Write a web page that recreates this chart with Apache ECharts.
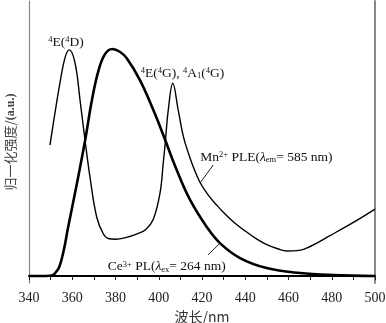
<!DOCTYPE html>
<html>
<head>
<meta charset="utf-8">
<script src="https://cdn.jsdelivr.net/npm/echarts@6/dist/echarts.min.js"></script>
<style>
html,body{margin:0;padding:0;background:#fff;}
#c{width:386px;height:323px;}
</style>
</head>
<body>
<div id="c"></div>
<script>
// Ce3+ PL (lambda_ex = 264 nm), thick curve
const ceWl  = [340, 348, 350.5, 352, 354, 356, 358, 362, 366, 369, 372, 375, 378.5, 382, 385.2, 391.3, 397.5, 402.1, 408.3, 414.5, 422.2, 428.3, 437.6, 449.9, 465.3, 480.7, 500];
const ceVal = [0, 0, 0.002, 0.012, 0.040, 0.110, 0.210, 0.400, 0.600, 0.770, 0.900, 0.975, 1.0, 0.988, 0.959, 0.863, 0.731, 0.621, 0.467, 0.335, 0.216, 0.145, 0.079, 0.035, 0.013, 0.004, 0];
// Mn2+ PLE (lambda_em = 585 nm), thin curve
const mnWl  = [349.7, 352, 354.3, 356.6, 358.6, 361.3, 363.6, 365.9, 368.2, 371.3, 374.4, 377, 380, 385, 390, 394, 397.5, 400.6, 402.1, 403, 404.4, 406.5, 409, 411.4, 414, 416, 419.1, 423, 427, 431, 435, 440, 445, 450, 455, 459.2, 465, 470, 479.2, 489.8, 500];
const mnVal = [0.577, 0.718, 0.850, 0.960, 0.996, 0.938, 0.775, 0.599, 0.436, 0.260, 0.185, 0.164, 0.162, 0.170, 0.186, 0.205, 0.250, 0.366, 0.500, 0.586, 0.731, 0.849, 0.731, 0.614, 0.533, 0.480, 0.412, 0.355, 0.310, 0.270, 0.235, 0.198, 0.165, 0.138, 0.120, 0.110, 0.113, 0.130, 0.178, 0.235, 0.295];
// x tick range
const xMin = 340, xMax = 500, xStep = 20;

const serif = 'Liberation Serif';
const rich = {
  n: {fontSize: 13.5, fontFamily: serif, color: '#111'},
  s: {fontSize: 8.5, fontFamily: serif, color: '#111', verticalAlign: 'top'},
  b: {fontSize: 8.5, fontFamily: serif, color: '#111', verticalAlign: 'bottom'},
  i: {fontSize: 13.5, fontFamily: serif, fontStyle: 'italic', color: '#111'}
};

function pairs(xs, ys){ return xs.map((x,i)=>[x, ys[i]]); }

const chart = echarts.init(document.getElementById('c'), null, {renderer: 'canvas'});
chart.setOption({
  animation: false,
  backgroundColor: '#fff',
  grid: {left: 29, right: 11, top: 1, bottom: 40, containLabel: false, outerBoundsMode: 'none'},
  xAxis: [{
    type: 'value', min: xMin, max: xMax, interval: xStep,
    name: '波长/nm', nameLocation: 'middle', nameGap: 25,
    nameTextStyle: {fontFamily: 'Noto Sans CJK SC', fontSize: 14, color: '#333'},
    axisLine: {lineStyle: {color: '#222', width: 1}},
    axisTick: {show: true, inside: false, length: 4, lineStyle: {color: '#222'}},
    minorTick: {show: true, splitNumber: 2, length: 4, lineStyle: {color: '#222'}},
    axisLabel: {fontFamily: serif, fontSize: 14, color: '#222', margin: 8},
    splitLine: {show: false}
  }, {
    type: 'value', position: 'top', min: xMin, max: xMax,
    axisLine: {show: true, lineStyle: {color: '#000', width: 2}},
    axisTick: {show: false}, axisLabel: {show: false}, splitLine: {show: false}
  }],
  yAxis: [{
    type: 'value', min: -0.0308, max: 1.2115,
    name: '{c|归一化强度/}{a|(a.u.)}', nameLocation: 'middle', nameGap: 12, nameRotate: 90,
    nameTextStyle: {rich: {
      c: {fontFamily: 'Noto Sans CJK SC', fontSize: 13, color: '#444'},
      a: {fontFamily: serif, fontSize: 12, fontWeight: 'bold', color: '#444'}
    }},
    axisLine: {show: true, lineStyle: {color: '#888', width: 1.2}},
    axisTick: {show: false}, axisLabel: {show: false}, splitLine: {show: false}
  }, {
    type: 'value', position: 'right', min: -0.0308, max: 1.2115,
    axisLine: {show: true, lineStyle: {color: '#888', width: 2}},
    axisTick: {show: false}, axisLabel: {show: false}, splitLine: {show: false}
  }],
  series: [{
    type: 'line', name: 'Ce', data: pairs(ceWl, ceVal), smooth: 0.4,
    showSymbol: false, lineStyle: {color: '#000', width: 2.6},
    markPoint: {
      symbol: 'circle', symbolSize: 0,
      label: {show: true, position: 'inside', rich: rich},
      data: [
        {coord: [357.1, 1.031], label: {formatter: '{s|4}{n|E(}{s|4}{n|D)}'}},
        {coord: [411.0, 0.894], label: {formatter: '{s|4}{n|E(}{s|4}{n|G), }{s|4}{n|A}{b|1}{n|(}{s|4}{n|G)}'}},
        {coord: [449.8, 0.522], label: {formatter: '{n|Mn}{s|2+}{n| PLE(}{i|λ}{b|em}{n|= 585 nm)}'}},
        {coord: [403.7, 0.040], label: {formatter: '{n|Ce}{s|3+}{n| PL(}{i|λ}{b|ex}{n|= 264 nm)}'}}
      ]
    },
    markLine: {
      symbol: 'none', silent: true, label: {show: false},
      lineStyle: {color: '#222', width: 1, type: 'solid'},
      data: [
        [{coord: [419.1, 0.410]}, {coord: [425.2, 0.489]}],
        [{coord: [422.8, 0.093]}, {coord: [427.9, 0.141]}]
      ]
    }
  }, {
    type: 'line', name: 'Mn', data: pairs(mnWl, mnVal), smooth: 0.4,
    showSymbol: false, lineStyle: {color: '#000', width: 1.4}
  }]
});
</script>
</body>
</html>
